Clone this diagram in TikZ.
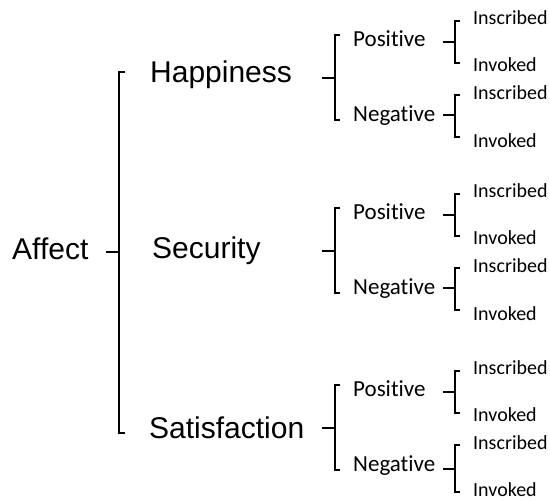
\documentclass[tikz,border=0pt]{standalone}
\usepackage{fontspec}
\newfontfamily\bigfont{Liberation Sans}
\newfontfamily\smallfont[Ligatures=CommonOff]{Carlito}
\begin{document}
\begin{tikzpicture}[x=1pt,y=-1pt,
  lvlA/.style={inner sep=0pt, anchor=base west, font=\bigfont\fontsize{30}{36}\selectfont},
  lvlB/.style={inner sep=0pt, anchor=base west, font=\smallfont\fontsize{23}{28}\selectfont},
  lvlC/.style={inner sep=0pt, anchor=base west, font=\smallfont\fontsize{20}{24}\selectfont},
  brk/.style={line width=1.6pt, line cap=butt, line join=miter}]
\useasboundingbox (0,0) rectangle (550,502);

% root
\node[lvlA] (affect) at (12,260) {Affect};
\coordinate (rtop) at (119,72);
\coordinate (rbot) at (119,433);
\draw[brk] ([xshift=6pt]rtop) -- (rtop) -- (rbot) -- ([xshift=6pt]rbot);
\draw[brk] (106,252) coordinate (rtick) -- (rtick -| rtop);

% level 1
\node[lvlA] (happ) at (150,83) {Happiness};
\node[lvlA] (secu) at (152,259) {Security};
\node[lvlA] (sati) at (149,439) {Satisfaction};

\foreach \o/\nm/\nt/\nb/\ni in {0/h/115/137/148,173/s/115/137/148,350/f/119/142/146.5}{
  \begin{scope}[yshift=-\o pt]
    % level-1 bracket
    \coordinate (\nm top) at (335,35);
    \coordinate (\nm bot) at (335,120);
    \draw[brk] ([xshift=5pt]\nm top) -- (\nm top) -- (\nm bot) -- ([xshift=5pt]\nm bot);
    \draw[brk] (322,78) coordinate (\nm tick) -- (\nm tick -| \nm top);
    \node[lvlB] (\nm pos) at (353,47) {Positive};
    \node[lvlB] (\nm neg) at (353,122) {Negative};
    % positive sub-bracket
    \coordinate (\nm ptop) at (455,21);
    \coordinate (\nm pbot) at (455,63);
    \draw[brk] ([xshift=5pt]\nm ptop) -- (\nm ptop) -- (\nm pbot) -- ([xshift=5pt]\nm pbot);
    \draw[brk] (443,42) coordinate (\nm ptick) -- (\nm ptick -| \nm ptop);
    \node[lvlC] (\nm pins) at (473,25) {Inscribed};
    \node[lvlC] (\nm pinv) at (473,72) {Invoked};
    % negative sub-bracket
    \coordinate (\nm ntop) at (455,95);
    \coordinate (\nm nbot) at (455,\nb);
    \draw[brk] ([xshift=5pt]\nm ntop) -- (\nm ntop) -- (\nm nbot) -- ([xshift=5pt]\nm nbot);
    \draw[brk] (443,\nt) coordinate (\nm ntick) -- (\nm ntick -| \nm ntop);
    \node[lvlC] (\nm nins) at (473,100) {Inscribed};
    \node[lvlC] (\nm ninv) at (473,\ni) {Invoked};
  \end{scope}
}
\end{tikzpicture}
\end{document}
